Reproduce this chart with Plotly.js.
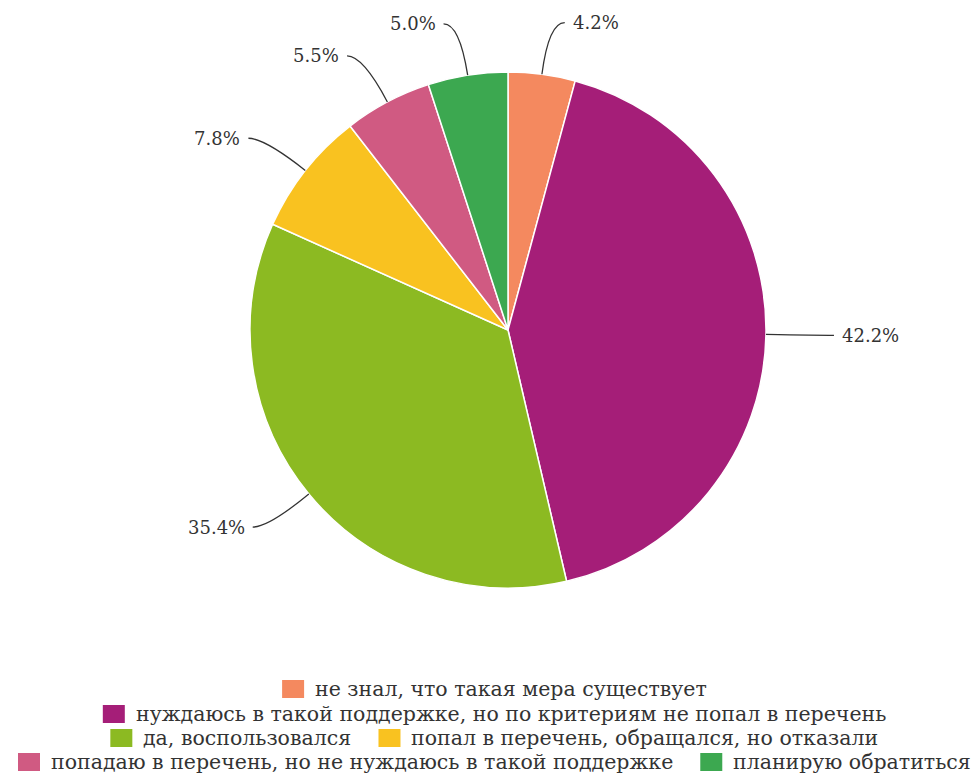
<!DOCTYPE html>
<html><head><meta charset="utf-8">
<script src="https://cdn.plot.ly/plotly-3.0.1.min.js"></script>
<style>html,body{margin:0;padding:0;background:#fff}</style>
</head><body>
<div id="chart" style="width:977px;height:774px"></div>
<script>
const categories = [
  "не знал, что такая мера существует",
  "нуждаюсь в такой поддержке, но по критериям не попал в перечень",
  "да, воспользовался",
  "попал в перечень, обращался, но отказали",
  "попадаю в перечень, но не нуждаюсь в такой поддержке",
  "планирую обратиться"
];
const values = [4.2, 42.2, 35.4, 7.8, 5.5, 5.0];
const colors = ["#F4895F", "#A51E78", "#8CBA22", "#F9C220", "#D05A82", "#3CA850"];
const legendRows = [[0], [1], [2, 3], [4, 5]];

const W = 977, H = 774;
const cx = 508, cy = 330, R = 258;
const px = x => x / W, py = y => 1 - y / H;
const FONT = "DejaVu Serif";
const TXT = "#333";

const total = values.reduce((a, b) => a + b, 0);
const shapes = [], annotations = [];
let cum = 0;
values.forEach((v, i) => {
  const mid = (cum + v / 2) / total * 2 * Math.PI;
  cum += v;
  const ux = Math.sin(mid), uy = -Math.cos(mid);
  const x0 = cx + R * ux, y0 = cy + R * uy;
  const d = 52;
  const x1 = cx + (R + d) * ux, y1 = cy + (R + d) * uy;
  const side = ux >= 0 ? 1 : -1;
  const x2 = x1 + side * 16, y2 = y1;
  shapes.push({
    type: "path", xref: "paper", yref: "paper",
    path: `M ${px(x0)} ${py(y0)} Q ${px(x1)} ${py(y1)} ${px(x2)} ${py(y2)}`,
    line: {color: "#333", width: 1.3}
  });
  annotations.push({
    xref: "paper", yref: "paper", x: px(x2 + side * 6), y: py(y2),
    xanchor: side > 0 ? "left" : "right", yanchor: "middle",
    text: v.toFixed(1) + "%", showarrow: false,
    font: {family: FONT, size: 18, color: TXT}
  });
});

// custom legend
const LFS = 20.5, SQW = 22, SQH = 18, SQGAP = 10, ITEMGAP = 28, LCENTER = 494;
const rowY = [689, 714, 738, 762];
const ctx = document.createElement("canvas").getContext("2d");
ctx.font = LFS + "px '" + FONT + "'";
legendRows.forEach((row, r) => {
  const widths = row.map(i => ctx.measureText(categories[i]).width);
  const totalW = widths.reduce((a, w) => a + SQW + SQGAP + w, 0) + ITEMGAP * (row.length - 1);
  let x = LCENTER - totalW / 2;
  const y = rowY[r];
  row.forEach((i, k) => {
    shapes.push({type: "rect", xref: "paper", yref: "paper",
      x0: px(x), x1: px(x + SQW), y0: py(y - SQH / 2), y1: py(y + SQH / 2),
      fillcolor: colors[i], line: {width: 0}});
    annotations.push({xref: "paper", yref: "paper", x: px(x + SQW + SQGAP), y: py(y),
      xanchor: "left", yanchor: "middle", showarrow: false, text: categories[i],
      font: {family: FONT, size: LFS, color: TXT}, xshift: -1});
    x += SQW + SQGAP + widths[k] + ITEMGAP;
  });
});

const trace = {
  type: "pie", labels: categories, values: values, sort: false,
  direction: "clockwise", rotation: 0,
  marker: {colors: colors, line: {color: "#fff", width: 1.5}},
  textinfo: "none", hoverinfo: "label+percent",
  domain: {x: [px(cx - R), px(cx + R)], y: [py(cy + R), py(cy - R)]}
};

const layout = {
  width: W, height: H, margin: {l: 0, r: 0, t: 0, b: 0},
  paper_bgcolor: "#fff", showlegend: false,
  shapes: shapes, annotations: annotations
};
Plotly.newPlot("chart", [trace], layout, {displayModeBar: false});
</script>
</body></html>
